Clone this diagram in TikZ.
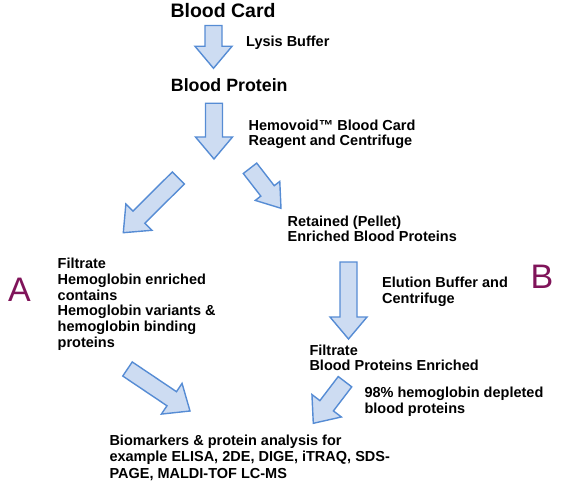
\documentclass[tikz,border=0pt]{standalone}
\usepackage{fontspec}
\setmainfont{Liberation Sans}
\usetikzlibrary{calc}

\definecolor{arrowfill}{RGB}{205,220,242}
\definecolor{arrowline}{RGB}{86,140,212}
\definecolor{lettercol}{RGB}{128,20,90}

\tikzset{
    fatarrow/.style={fill=arrowfill, draw=arrowline, line width=1.4pt},
    % multi-line nodes: the base anchor sits on the last line
    steptext/.style={font=\bfseries\fontsize{14.5}{#1}\selectfont, align=left, inner sep=0pt, anchor=base west},
    steptext/.default=16,
    bigletter/.style={font=\fontsize{34}{34}\selectfont, text=lettercol, inner sep=0pt, anchor=base west}
}

% block arrow from tail to tip: shaft 17, head length 22, head half-width #1
\newcommand{\fatarrow}[3][18.5]{%
    \draw[fatarrow] let \p1 = ($(#3)-(#2)$),
                        \n1 = {atan2(\y1,\x1)},
                        \n2 = {veclen(\x1,\y1)-22},
                        \n3 = {#1-8.5} in
        ($(#2)+(\n1+90:8.5)$) -- ++(\n1:\n2) -- ++(\n1+90:\n3)
        -- (#3)
        -- ($(#2)+(\n1:\n2)+(\n1-90:#1)$) -- ++(\n1+90:\n3)
        -- ($(#2)+(\n1-90:8.5)$) -- cycle;
}

\begin{document}
\begin{tikzpicture}[x=1pt, y=1pt]

    \useasboundingbox (0,0) rectangle (562,-489);

    % 1. Main chain
    \node[steptext, font=\bfseries\fontsize{19.5}{20}\selectfont] (card) at (170.3,-17.7) {Blood Card};
    \node[steptext, font=\bfseries\fontsize{17.8}{20}\selectfont] (protein) at (170.7,-91.7) {Blood Protein};

    \node[steptext] (lysis) at (246,-46.7) {Lysis Buffer};
    \node[steptext=15.5] (hemovoid) at (248.5,-145.7) {Hemovoid™ Blood Card\\Reagent and Centrifuge};

    % 2. Branch A (filtrate)
    \node[steptext=15.9] (filtrateA) at (57.5,-347.7) {Filtrate\\Hemoglobin enriched\\contains\\Hemoglobin variants \&\\hemoglobin binding\\proteins};
    \node[bigletter] (letterA) at (8,-301.7) {A};

    % 3. Branch B (pellet)
    \node[steptext=15] (retained) at (287.5,-241.7) {Retained (Pellet)\\Enriched Blood Proteins};
    \node[steptext] (elution) at (382,-303.3) {Elution Buffer and\\Centrifuge};
    \node[steptext=15.7] (filtrateB) at (309.3,-370.7) {Filtrate\\Blood Proteins Enriched};
    \node[steptext] (depleted) at (364.3,-413.3) {98\% hemoglobin depleted\\blood proteins};
    \node[bigletter] (letterB) at (530.5,-288.3) {B};

    % 4. Analysis
    \node[steptext=16.6] (analysis) at (109.3,-478.3) {Biomarkers \& protein analysis for\\example ELISA, 2DE, DIGE, iTRAQ, SDS-\\PAGE, MALDI-TOF LC-MS};

    % 5. Arrow ends
    \coordinate (lysisin)  at (213.5,-25.5);
    \coordinate (lysisout) at (213.5,-68.3);
    \coordinate (splitin)  at (214,-103.3);
    \coordinate (splitout) at (214,-159);
    \coordinate (ain)  at (178.3,-178);
    \coordinate (aout) at (123.3,-232.7);
    \coordinate (bin)  at (250,-168.3);
    \coordinate (bout) at (281,-208.3);
    \coordinate (elutin)  at (348.5,-262);
    \coordinate (elutout) at (348.5,-339);
    \coordinate (aendin)  at (127.5,-369);
    \coordinate (aendout) at (190,-411);
    \coordinate (bendin)  at (345,-381.7);
    \coordinate (bendout) at (313.3,-423.3);

    % 6. Block arrows
    \fatarrow{lysisin}{lysisout}
    \fatarrow{splitin}{splitout}
    \fatarrow{ain}{aout}
    \fatarrow[15.5]{bin}{bout}
    \fatarrow{elutin}{elutout}
    \fatarrow{aendin}{aendout}
    \fatarrow{bendin}{bendout}

\end{tikzpicture}
\end{document}
